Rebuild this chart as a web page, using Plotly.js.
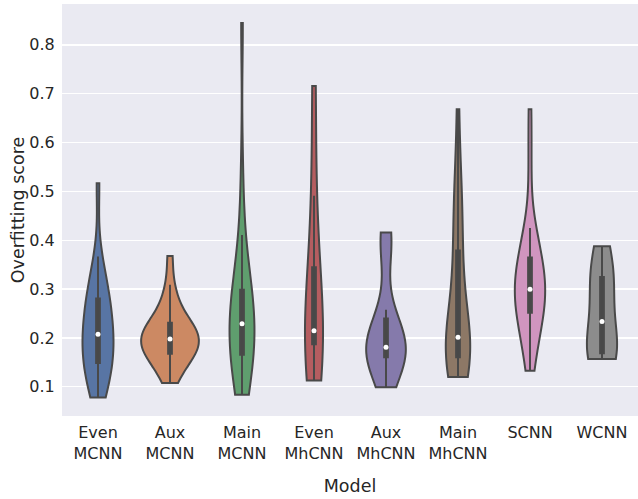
<!DOCTYPE html>
<html>
<head>
<meta charset="utf-8">
<script src="https://cdn.plot.ly/plotly-3.0.1.min.js"></script>
<style>html,body{margin:0;padding:0;background:#fff;}#chart{width:638px;height:499px;}</style>
</head>
<body>
<div id="chart"></div>
<script>
// Categories and tick labels
const categories = ["Even MCNN","Aux MCNN","Main MCNN","Even MhCNN","Aux MhCNN","Main MhCNN","SCNN","WCNN"];
const tickLabels = ["Even<br>MCNN","Aux<br>MCNN","Main<br>MCNN","Even<br>MhCNN","Aux<br>MhCNN","Main<br>MhCNN","SCNN","WCNN"];

// Overfitting scores (estimated samples)
const evenMCNN = [0.078,0.09,0.105,0.118,0.13,0.146,0.152,0.162,0.172,0.183,0.193,0.203,0.212,0.222,0.233,0.245,0.257,0.277,0.285,0.297,0.31,0.33,0.367,0.517];
const auxMCNN = [0.108,0.125,0.14,0.152,0.16,0.165,0.17,0.176,0.182,0.187,0.192,0.196,0.2,0.205,0.21,0.216,0.222,0.228,0.234,0.245,0.26,0.28,0.309,0.368];
const mainMCNN = [0.084,0.1,0.115,0.13,0.145,0.163,0.168,0.18,0.193,0.205,0.215,0.224,0.234,0.245,0.256,0.268,0.28,0.292,0.305,0.325,0.36,0.411,0.53,0.845];
const evenMhCNN = [0.113,0.15,0.187,0.2,0.215,0.28,0.345,0.491,0.716];
const auxMhCNN = [0.099,0.13,0.15,0.157,0.164,0.175,0.179,0.18,0.182,0.195,0.215,0.222,0.258,0.38,0.405,0.416];
const mainMhCNN = [0.12,0.13,0.14,0.148,0.154,0.158,0.163,0.172,0.18,0.188,0.194,0.198,0.205,0.23,0.26,0.29,0.33,0.36,0.398,0.44,0.47,0.5,0.55,0.668];
const scnn = [0.133,0.165,0.19,0.208,0.225,0.248,0.255,0.264,0.273,0.282,0.29,0.297,0.303,0.312,0.322,0.333,0.345,0.358,0.372,0.388,0.405,0.425,0.56,0.668];
const wcnn = [0.157,0.163,0.175,0.2,0.268,0.315,0.335,0.388];

const seriesData = [evenMCNN, auxMCNN, mainMCNN, evenMhCNN, auxMhCNN, mainMhCNN, scnn, wcnn];
const fillColors = ["#5875a4","#cc8963","#5f9e6e","#b55d60","#857aab","#8d7866","#d095bf","#8c8c8c"];
const lineGray = "#494949";

function quantile(arr, q) {
  const s = arr.slice().sort((a,b)=>a-b);
  const pos = (s.length - 1) * q;
  const lo = Math.floor(pos), hi = Math.ceil(pos);
  return s[lo] + (s[hi] - s[lo]) * (pos - lo);
}
function scottBw(arr) {
  const n = arr.length;
  const m = arr.reduce((a,b)=>a+b,0)/n;
  const v = arr.reduce((a,b)=>a+(b-m)*(b-m),0)/(n-1);
  return Math.sqrt(v) * Math.pow(n, -0.2);
}
// peak of the gaussian KDE over the data support (seaborn "area" scaling)
function kdePeak(arr, bw) {
  const lo = Math.min(...arr), hi = Math.max(...arr);
  let best = 0;
  for (let k = 0; k <= 300; k++) {
    const x = lo + (hi - lo) * k / 300;
    let s = 0;
    for (const v of arr) { const u = (x - v) / bw; s += Math.exp(-0.5 * u * u); }
    s /= (arr.length * bw * Math.sqrt(2 * Math.PI));
    if (s > best) best = s;
  }
  return best;
}

const bws = seriesData.map(scottBw);
const peaks = seriesData.map((v, i) => kdePeak(v, bws[i]));
const maxPeak = Math.max(...peaks);
const fullWidth = 0.8;
const boxHalf = 0.026; // category units

const traces = seriesData.map((vals, i) => {
  const w = fullWidth * peaks[i] / maxPeak;
  return {
    type: 'violin',
    x: vals.map(() => categories[i]),
    y: vals,
    name: categories[i],
    width: w,
    scalegroup: 'g' + i,
    scalemode: 'width',
    spanmode: 'hard',
    bandwidth: bws[i],
    quartilemethod: 'inclusive',
    fillcolor: fillColors[i],
    opacity: 1,
    line: {color: lineGray, width: 2},
    points: 'outliers',
    marker: {opacity: 0, size: 1},
    box: {visible: true, width: boxHalf / (w / 2), fillcolor: lineGray, line: {color: lineGray, width: 2}},
    meanline: {visible: false},
    showlegend: false,
    hoverinfo: 'skip'
  };
});

traces.push({
  type: 'scatter',
  mode: 'markers',
  x: categories,
  y: seriesData.map(v => quantile(v, 0.5)),
  marker: {color: '#ffffff', size: 5},
  showlegend: false,
  hoverinfo: 'skip'
});

const layout = {
  width: 638, height: 499,
  margin: {l: 62, r: 0, t: 4, b: 83},
  paper_bgcolor: '#ffffff',
  plot_bgcolor: '#eaeaf2',
  font: {family: 'DejaVu Sans, sans-serif', size: 16, color: '#262626'},
  showlegend: false,
  violinmode: 'overlay',
  xaxis: {
    type: 'category',
    categoryorder: 'array', categoryarray: categories,
    tickmode: 'array', tickvals: categories, ticktext: tickLabels,
    range: [-0.5, 7.5],
    showgrid: false, zeroline: false, showline: false,
    ticks: 'outside', ticklen: 2, tickcolor: 'rgba(0,0,0,0)',
    title: {text: 'Model', font: {size: 17.5}, standoff: 17}
  },
  yaxis: {
    range: [0.0403, 0.8837],
    dtick: 0.1, tick0: 0, tickformat: '.1f',
    showgrid: true, gridcolor: '#ffffff', gridwidth: 1.3,
    zeroline: false, showline: false,
    ticks: 'outside', ticklen: 3, tickcolor: 'rgba(0,0,0,0)',
    title: {text: 'Overfitting score', font: {size: 17.5}, standoff: 0}
  }
};

Plotly.newPlot('chart', traces, layout, {staticPlot: true, displayModeBar: false});
</script>
</body>
</html>
